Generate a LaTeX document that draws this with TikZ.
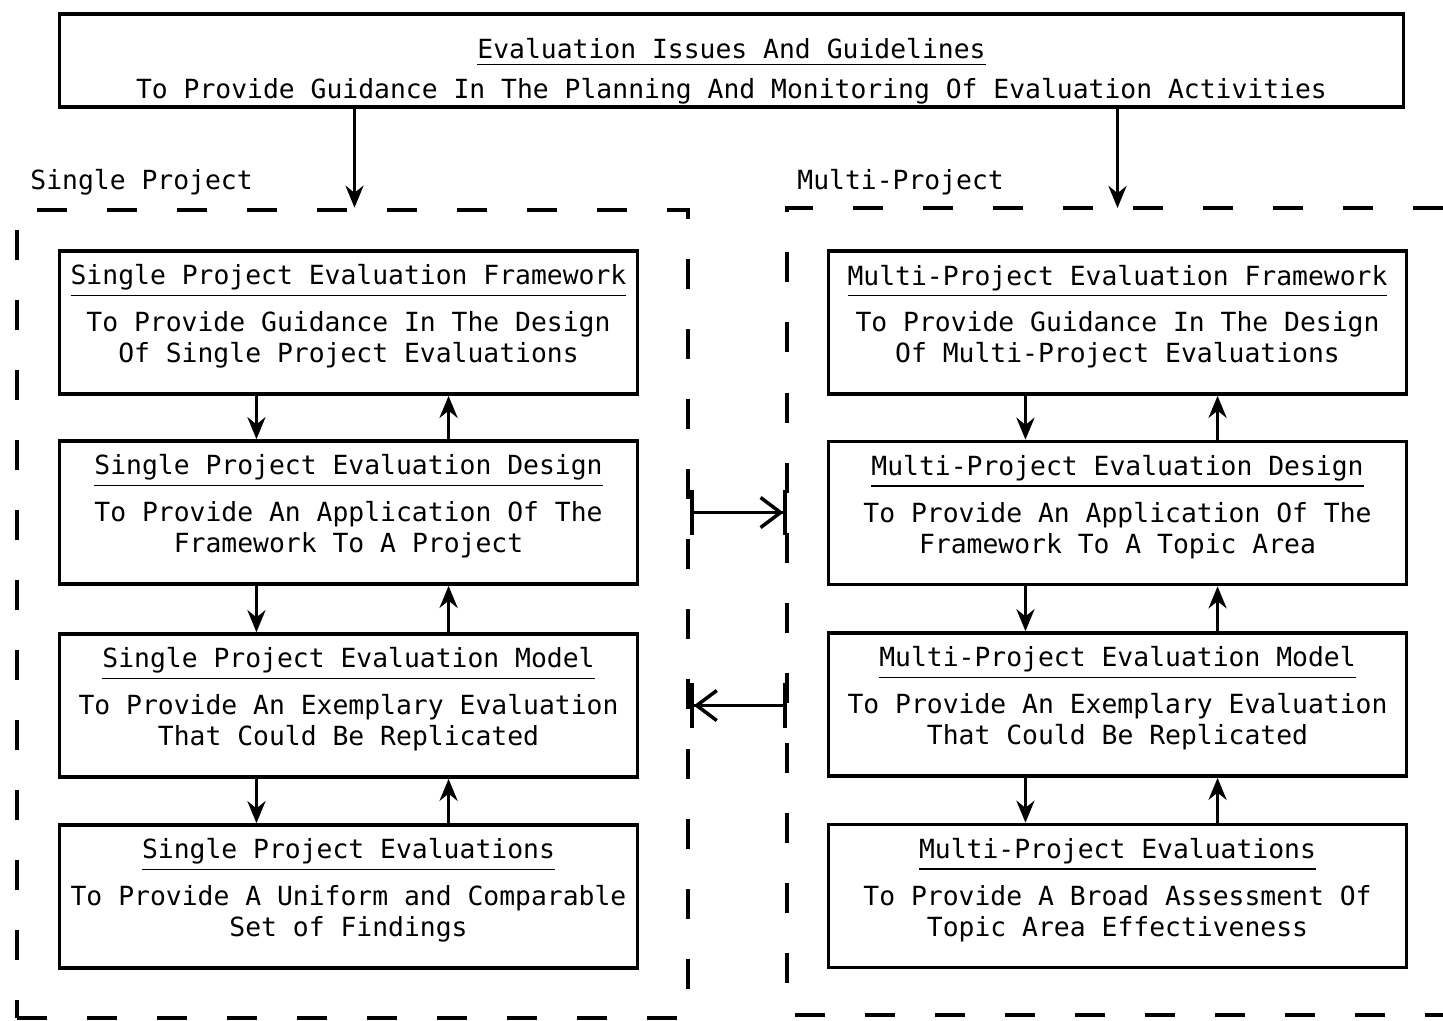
\documentclass[tikz,border=0pt]{standalone}
\usepackage{fontspec}
\setmonofont{DejaVu Sans Mono}
\usetikzlibrary{arrows.meta,positioning}

\newcommand{\lowstrut}{\rule[-5pt]{0pt}{0pt}}

\begin{document}
\begin{tikzpicture}[x=0.01cm,y=-0.01cm,font=\ttfamily\fontsize{7.5}{8.8}\selectfont,
  box/.style={rectangle,draw,line width=1pt,inner sep=0pt,align=center,
              minimum width=5.78cm,minimum height=1.43cm},
  panel/.style={line width=1.2pt,dash pattern=on 0.3cm off 0.4cm},
  flow/.style={-{Stealth[length=2.2mm,width=1.8mm]},line width=1pt},
  cross/.style={{Bar[width=4.5mm]}-{Straight Barb[length=2mm,width=3mm]Bar[width=4.5mm]},
                line width=1pt}]
  \useasboundingbox (0,0) rectangle (1443,1020);

  % Issues and guidelines
  \node[box,minimum width=13.43cm,minimum height=0.93cm] (issues) at (731.5,60.5)
    {\rule{0pt}{12pt}\underline{Evaluation Issues And Guidelines}\\[2.5pt]
     To Provide Guidance In The Planning And Monitoring Of Evaluation Activities};

  % Single project panel
  \node[panel,draw,inner sep=0pt,minimum width=6.71cm,minimum height=8.08cm] (lp) at (352.5,614) {};
  \node[anchor=west] (lplabel) at (18,182) {Single Project};

  \node[box] (sfw)   at (348.5,322.5) {\underline{Single Project Evaluation Framework}\\[3pt]
    To Provide Guidance In The Design\\ Of Single Project Evaluations\lowstrut};
  \node[box] (sdes)  at (348.5,512.5) {\underline{Single Project Evaluation Design}\\[3pt]
    To Provide An Application Of The\\ Framework To A Project\lowstrut};
  \node[box] (smod)  at (348.5,705.5) {\underline{Single Project Evaluation Model}\\[3pt]
    To Provide An Exemplary Evaluation\\ That Could Be Replicated\lowstrut};
  \node[box] (seval) at (348.5,896.5) {\underline{Single Project Evaluations}\\[3pt]
    To Provide A Uniform and Comparable\\ Set of Findings\lowstrut};

  % Multi-project panel
  \coordinate (rpnw) at (787,208);
  \coordinate (rpsw) at (787,1015);
  \draw[panel] (1443,208) -- (rpnw) -- (rpsw) -- (1443,1015);
  \node[anchor=west] (rplabel) at (785,182) {Multi-Project};

  \node[box] (mfw)   at (1117.5,322.5) {\underline{Multi-Project Evaluation Framework}\\[3pt]
    To Provide Guidance In The Design\\ Of Multi-Project Evaluations\lowstrut};
  \node[box] (mdes)  at (1117.5,513)   {\underline{Multi-Project Evaluation Design}\\[3pt]
    To Provide An Application Of The\\ Framework To A Topic Area\lowstrut};
  \node[box] (mmod)  at (1117.5,704.5) {\underline{Multi-Project Evaluation Model}\\[3pt]
    To Provide An Exemplary Evaluation\\ That Could Be Replicated\lowstrut};
  \node[box] (meval) at (1117.5,896)   {\underline{Multi-Project Evaluations}\\[3pt]
    To Provide A Broad Assessment Of\\ Topic Area Effectiveness\lowstrut};

  % Arrows
  \draw[flow] ([xshift=0.06cm]issues.south -| sfw) -- ([xshift=0.06cm]lp.north -| sfw);
  \draw[flow] (issues.south -| mfw) -- (rpnw -| mfw);
  \foreach \a/\b in {sfw/sdes,sdes/smod,smod/seval,mfw/mdes,mdes/mmod,mmod/meval} {
    \draw[flow] ([xshift=-0.92cm]\a.south) -- ([xshift=-0.92cm]\b.north);
    \draw[flow] ([xshift=1cm]\b.north) -- ([xshift=1cm]\a.south);
  }
  \draw[cross] (lp.east |- sdes) -- (rpnw |- sdes);
  \draw[cross] (rpnw |- smod) -- (lp.east |- smod);
\end{tikzpicture}
\end{document}
